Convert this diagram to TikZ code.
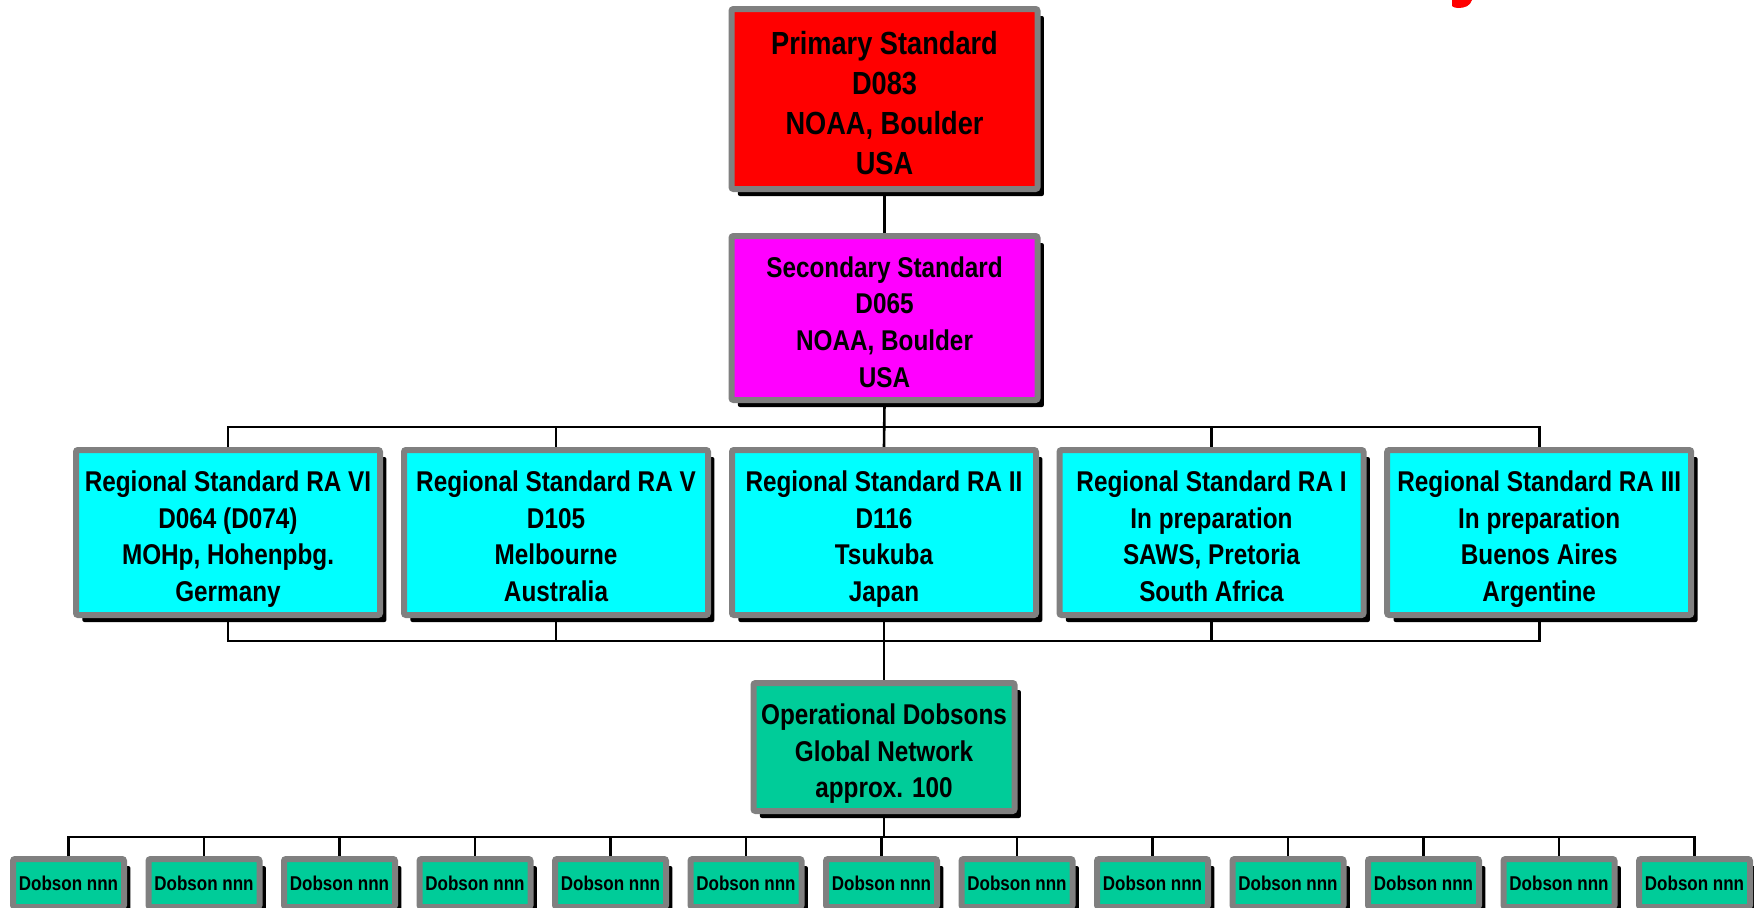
\documentclass[tikz,border=0pt]{standalone}
\usepackage{fontspec}
\setmainfont{Liberation Sans}[FakeStretch=0.85]
\usetikzlibrary{shadows}
\definecolor{bordergray}{RGB}{128,128,128}
\definecolor{opgreen}{RGB}{0,204,153}
\definecolor{primred}{RGB}{255,0,0}
\definecolor{secmag}{RGB}{255,0,255}
\definecolor{regcyan}{RGB}{0,255,255}
\newcommand\toprulebig{\rule{0pt}{18.5pt}}
\newcommand\toprulemid{\rule{0pt}{17.3pt}}
\pgfdeclarelayer{bg}
\pgfsetlayers{bg,main}
\tikzset{
  vcenter/.style 2 args={
    execute at begin node={\rule{0pt}{#1}},
    execute at end node={\rule[-#2]{0pt}{#2}}},
  box/.style={draw=bordergray, line width=3pt, rounded corners=1pt, align=center,
    inner sep=0pt, text=black,
    drop shadow={shadow xshift=3.2pt, shadow yshift=-3.5pt, fill=black, opacity=1}},
  bigfont/.style={font=\fontsize{16}{20}\selectfont\bfseries, vcenter={14pt}{3.2pt}},
  midfont/.style={font=\fontsize{14.3}{18.3}\selectfont\bfseries, vcenter={12.8pt}{3.2pt}},
  smallfont/.style={font=\fontsize{10}{12}\selectfont\bfseries, vcenter={9.2pt}{2pt}},
  regbox/.style={box, midfont, fill=regcyan, minimum width=152pt, minimum height=82.5pt},
  dobbox/.style={box, smallfont, fill=opgreen, minimum width=55.5pt, minimum height=24pt},
  conn/.style={draw=black, line width=1.3pt}
}
\begin{document}
\begin{tikzpicture}[x=0.5pt, y=-0.5pt]
\useasboundingbox (0,0) rectangle (1754,907);
% red fragment of cut-off title
\fill[primred] (1452,0) -- (1472,0) .. controls (1470,6) and (1465,8) .. (1458,8) .. controls (1455,8) and (1453,7) .. (1452,6) -- cycle;

\node[box, bigfont, fill=primred, minimum width=153pt, minimum height=90pt] (prim) at (884.5,99)
  {\toprulebig Primary Standard\\D083\\NOAA, Boulder\\USA};
\node[box, midfont, fill=secmag, minimum width=153pt, minimum height=82pt] (sec) at (884.5,318)
  {\toprulemid Secondary Standard\\D065\\NOAA, Boulder\\USA};

\node[regbox] (reg1) at (228,532.5) {\toprulemid Regional Standard RA VI\\D064 (D074)\\MOHp, Hohenpbg.\\Germany};
\node[regbox] (reg2) at (556,532.5) {\toprulemid Regional Standard RA V\\D105\\Melbourne\\Australia};
\node[regbox] (reg3) at (884,532.5) {\toprulemid Regional Standard RA II\\D116\\Tsukuba\\Japan};
\node[regbox] (reg4) at (1211.5,532.5) {\toprulemid Regional Standard RA I\\In preparation\\SAWS, Pretoria\\South Africa};
\node[regbox] (reg5) at (1539.2,532.5) {\toprulemid Regional Standard RA III\\In preparation\\Buenos Aires\\Argentine};

\node[box, midfont, fill=opgreen, minimum width=130.5pt, minimum height=64pt] (op) at (884,747)
  {\toprulemid Operational Dobsons\\Global Network\\approx. 100};

\foreach \i in {1,...,13} {
  \node[dobbox] (dob\i) at ({68.5+(\i-1)*135.5},883) {Dobson nnn};
}

\coordinate (busA) at (884,427);
\coordinate (busB) at (884,641);
\coordinate (busC) at (884,837);

\begin{pgfonlayer}{bg}
  \draw[conn] (prim.south) -- (sec.north);
  \draw[conn] (sec.south) -- (reg3.north);
  \draw[conn] (reg1.north) |- (busA) -| (reg5.north);
  \draw[conn] (reg2.north) -- (reg2.north |- busA);
  \draw[conn] (reg4.north) -- (reg4.north |- busA);
  \draw[conn] (reg1.south) |- (busB) -| (reg5.south);
  \draw[conn] (reg2.south) -- (reg2.south |- busB);
  \draw[conn] (reg4.south) -- (reg4.south |- busB);
  \draw[conn] (reg3.south) -- (op.north);
  \draw[conn] (op.south) -- (busC);
  \draw[conn] (dob1.north) |- (busC) -| (dob13.north);
  \foreach \i in {2,...,12} {
    \draw[conn] (dob\i.north) -- (dob\i.north |- busC);
  }
\end{pgfonlayer}
\end{tikzpicture}
\end{document}
